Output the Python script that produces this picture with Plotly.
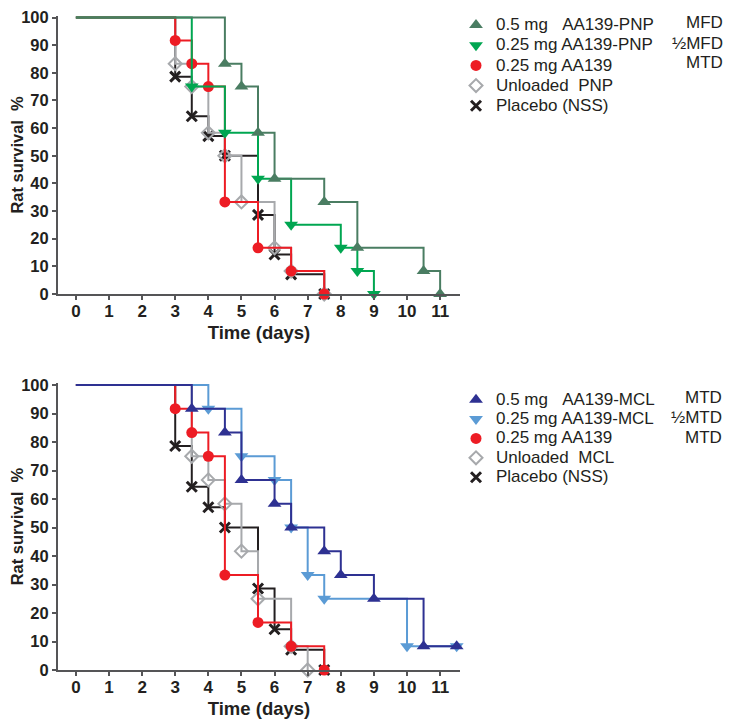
import plotly.graph_objects as go

# page body has an 8px margin, so the figure is laid out in (screen px - 8)
W, H = 717, 715
OFF = 8

# ---------------- data: top panel (PNP) ----------------
pnp_mfd_days = [4.5, 5, 5.5, 6, 7.5, 8.5, 10.5, 11]
pnp_mfd_surv = [83.3, 75, 58.3, 41.7, 33.3, 16.7, 8.3, 0]
pnp_half_days = [3.5, 4.5, 5.5, 6.5, 8, 8.5, 9]
pnp_half_surv = [75, 58.3, 41.7, 25, 16.7, 8.3, 0]
aa139_days = [3, 3.5, 4, 4.5, 5.5, 6.5, 7.5]
aa139_surv = [91.7, 83.3, 75, 33.3, 16.7, 8.3, 0]
unl_pnp_days = [3, 3.5, 4, 4.5, 5, 6, 6.5, 7.5]
unl_pnp_surv = [83.3, 75, 58.3, 50, 33.3, 16.7, 8.3, 0]
placebo_days = [3, 3.5, 4, 4.5, 5.5, 6, 6.5, 7.5]
placebo_surv = [78.6, 64.3, 57.1, 50, 28.6, 14.3, 7.1, 0]

# ---------------- data: bottom panel (MCL) ----------------
mcl_mtd_days = [3.5, 4.5, 5, 6, 6.5, 7.5, 8, 9, 10.5, 11.5]
mcl_mtd_surv = [91.7, 83.3, 66.7, 58.3, 50, 41.7, 33.3, 25, 8.3, 8.3]
mcl_half_days = [4, 5, 6, 6.5, 7, 7.5, 10, 11.5]
mcl_half_surv = [91.7, 75, 66.7, 50, 33.3, 25, 8.3, 8.3]
unl_mcl_days = [3.5, 4, 4.5, 5, 5.5, 6.5, 7]
unl_mcl_surv = [75, 66.7, 58.3, 41.7, 25, 8.3, 0]

start_day = 0
start_surv = 100

x_ticks = list(range(0, 12))
y_ticks = list(range(0, 101, 10))

NB = "\u00a0"
top_names = ["0.5 mg" + NB * 3 + "AA139-PNP", "0.25 mg AA139-PNP", "0.25 mg AA139",
             "Unloaded" + NB * 2 + "PNP", "Placebo (NSS)"]
top_right = ["MFD", "½MFD", "MTD"]
bot_names = ["0.5 mg" + NB * 3 + "AA139-MCL", "0.25 mg AA139-MCL", "0.25 mg AA139",
             "Unloaded" + NB * 2 + "MCL", "Placebo (NSS)"]
bot_right = ["MTD", "½MTD", "MTD"]

C_DKGREEN = "#4a7d62"
C_GREEN = "#00a651"
C_RED = "#ed1c24"
C_GRAY = "#a7a9ac"
C_BLACK = "#231f20"
C_NAVY = "#2e3192"
C_LBLUE = "#5b9bd5"

FONT = "Liberation Sans, Arial, sans-serif"
AX_COL = "#555557"
LEG_TXT = 17          # visible legend text size

fig = go.Figure()


def span(t):
    return '<span style="font-size:%spx">%s</span>' % (LEG_TXT, t)


def add_series(days, surv, name, color, symbol, size, xa, ya, legend, open_marker=False, xmark=False):
    fig.add_trace(go.Scatter(
        x=[start_day] + days, y=[start_surv] + surv, mode="lines",
        line=dict(color=color, width=2, shape="hv"),
        xaxis=xa, yaxis=ya, showlegend=False, hoverinfo="skip", cliponaxis=False))
    if xmark:
        marker = dict(symbol="x-thin", size=size, line=dict(color=color, width=3), color=color)
    elif open_marker:
        marker = dict(symbol="diamond-open", size=size, color=color, line=dict(color=color, width=2))
    else:
        marker = dict(symbol=symbol, size=size, color=color, line=dict(width=0))
    fig.add_trace(go.Scatter(
        x=days, y=surv, mode="markers", name=span(name), marker=marker,
        xaxis=xa, yaxis=ya, legend=legend, cliponaxis=False))


# top panel (draw bottom-most first)
add_series(placebo_days, placebo_surv, top_names[4], C_BLACK, "x-thin", 10, "x", "y", "legend", xmark=True)
add_series(unl_pnp_days, unl_pnp_surv, top_names[3], C_GRAY, "diamond-open", 10, "x", "y", "legend", open_marker=True)
add_series(aa139_days, aa139_surv, top_names[2], C_RED, "circle", 11, "x", "y", "legend")
add_series(pnp_half_days, pnp_half_surv, top_names[1], C_GREEN, "triangle-down", 12, "x", "y", "legend")
add_series(pnp_mfd_days, pnp_mfd_surv, top_names[0], C_DKGREEN, "triangle-up", 12, "x", "y", "legend")

# bottom panel
add_series(placebo_days, placebo_surv, bot_names[4], C_BLACK, "x-thin", 10, "x2", "y2", "legend2", xmark=True)
add_series(unl_mcl_days, unl_mcl_surv, bot_names[3], C_GRAY, "diamond-open", 10, "x2", "y2", "legend2", open_marker=True)
add_series(aa139_days, aa139_surv, bot_names[2], C_RED, "circle", 11, "x2", "y2", "legend2")
add_series(mcl_half_days, mcl_half_surv, bot_names[1], C_LBLUE, "triangle-down", 12, "x2", "y2", "legend2")
add_series(mcl_mtd_days, mcl_mtd_surv, bot_names[0], C_NAVY, "triangle-up", 12, "x2", "y2", "legend2")


def px_x(p):  # p in screen px
    return (p - OFF) / W


def px_y(p):
    return 1 - (p - OFF) / H


xdom = [px_x(58), px_x(460)]
common_x = dict(range=[-0.54, 11.6], tickvals=x_ticks, ticks="outside", ticklen=4, tickwidth=1.5,
                tickcolor=AX_COL, showline=True, linecolor=AX_COL, linewidth=2, showgrid=False,
                zeroline=False, domain=xdom, ticklabelstandoff=-3,
                tickfont=dict(family=FONT, size=17, color=C_BLACK, weight="bold"),
                title=dict(text="Time (days)", font=dict(family=FONT, size=18.5, color=C_BLACK, weight="bold"),
                           standoff=6))
common_y = dict(range=[0, 100.6], tickvals=y_ticks, ticks="outside", ticklen=4, tickwidth=1.5,
                tickcolor=AX_COL, showline=True, linecolor=AX_COL, linewidth=2, showgrid=False,
                zeroline=False, ticklabelstandoff=0, ticklabeloverflow="allow",
                tickfont=dict(family=FONT, size=16.5, color=C_BLACK, weight="bold"),
                title=dict(text="Rat survival" + NB * 2 + "%",
                           font=dict(family=FONT, size=16.5, color=C_BLACK, weight="bold"), standoff=2))

top_y0, top_y100 = 294, 17.5
bot_y0, bot_y100 = 670, 385
top_dom = [px_y(top_y0), px_y(top_y100 - 0.6 * (top_y0 - top_y100) / 100)]
bot_dom = [px_y(bot_y0), px_y(bot_y100 - 0.6 * (bot_y0 - bot_y100) / 100)]

fig.update_layout(
    width=W, height=H, margin=dict(l=0, r=0, t=0, b=0, autoexpand=False), autosize=False,
    paper_bgcolor="white", plot_bgcolor="white",
    xaxis=dict(**common_x, anchor="y"),
    yaxis=dict(**common_y, domain=top_dom, anchor="x"),
    xaxis2=dict(**common_x, anchor="y2"),
    yaxis2=dict(**common_y, domain=bot_dom, anchor="x2"),
    legend=dict(x=px_x(456), y=px_y(10), xanchor="left", yanchor="top", bgcolor="rgba(0,0,0,0)",
                font=dict(family=FONT, size=13.2, color=C_BLACK), traceorder="reversed",
                tracegroupgap=0, borderwidth=0),
    legend2=dict(x=px_x(456), y=px_y(385), xanchor="left", yanchor="top", bgcolor="rgba(0,0,0,0)",
                 font=dict(family=FONT, size=12.6, color=C_BLACK), traceorder="reversed",
                 tracegroupgap=0, borderwidth=0),
    showlegend=True,
)

top_rows = [22.5, 43, 63]
bot_rows = [398, 417.5, 437]
for txt, yy in zip(top_right, top_rows):
    fig.add_annotation(x=px_x(724), y=px_y(yy), xref="paper", yref="paper", text=txt, showarrow=False,
                       xanchor="right", yanchor="middle", borderpad=0,
                       font=dict(family=FONT, size=LEG_TXT, color=C_BLACK))
for txt, yy in zip(bot_right, bot_rows):
    fig.add_annotation(x=px_x(723), y=px_y(yy), xref="paper", yref="paper", text=txt, showarrow=False,
                       xanchor="right", yanchor="middle", borderpad=0,
                       font=dict(family=FONT, size=LEG_TXT, color=C_BLACK))

fig.write_html("out.html")
